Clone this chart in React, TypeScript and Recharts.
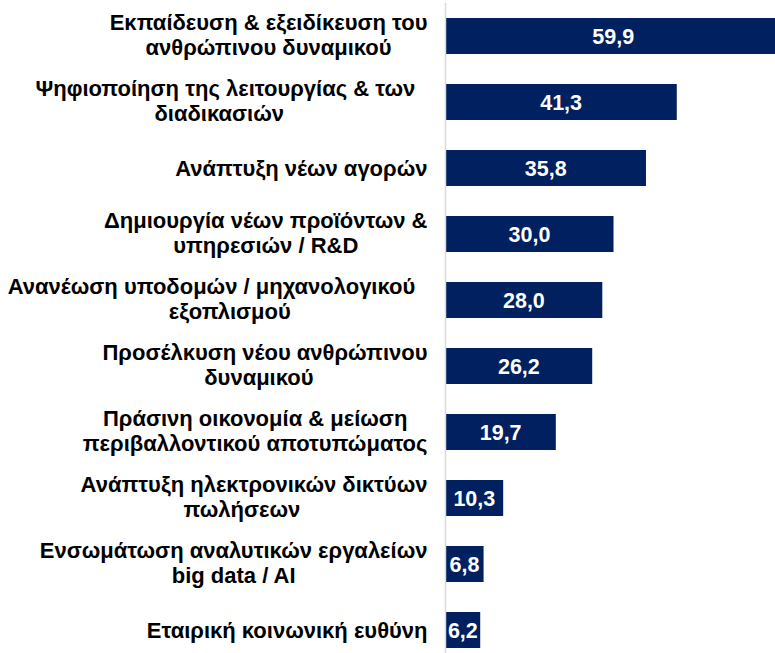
import React from 'react';
import { BarChart, Bar, XAxis, YAxis, LabelList } from 'recharts';

const categories = [
  'Εκπαίδευση & εξειδίκευση του\nανθρώπινου δυναμικού',
  'Ψηφιοποίηση της λειτουργίας & των  \nδιαδικασιών    ',
  'Ανάπτυξη νέων αγορών',
  'Δημιουργία νέων προϊόντων &\nυπηρεσιών / R&D',
  'Ανανέωση υποδομών / μηχανολογικού  \n    εξοπλισμού',
  'Προσέλκυση νέου ανθρώπινου\nδυναμικού  ',
  'Πράσινη οικονομία & μείωση\nπεριβαλλοντικού αποτυπώματος',
  'Ανάπτυξη ηλεκτρονικών δικτύων\nπωλήσεων    ',
  'Ενσωμάτωση αναλυτικών εργαλείων\nbig data / AI',
  'Εταιρική κοινωνική ευθύνη',
];
const values = [59.9, 41.3, 35.8, 30.0, 28.0, 26.2, 19.7, 10.3, 6.8, 6.2];

const data = categories.map((name, i) => ({ name, value: values[i] }));

const FONT_SIZE = 22;
const FONT = `bold ${FONT_SIZE}px "Liberation Sans", Arial, sans-serif`;
let ctx: CanvasRenderingContext2D | null = null;
function measure(t: string): number {
  if (!ctx && typeof document !== 'undefined') {
    ctx = document.createElement('canvas').getContext('2d');
  }
  if (!ctx) return t.length * FONT_SIZE * 0.55;
  ctx.font = FONT;
  return ctx.measureText(t).width;
}

const CategoryTick = (props: any) => {
  const { x, y, payload } = props;
  const lines: string[] = String(payload.value).split('\n');
  const maxW = Math.max(...lines.map(measure));
  const cx = x - maxW / 2;
  const lh = 25;
  const startY = y - ((lines.length - 1) * lh) / 2 - (lines.length > 1 ? 1.5 : 0);
  return (
    <g>
      {lines.map((l, i) => (
        <text
          key={i}
          x={cx}
          y={startY + i * lh}
          dy="0.35em"
          textAnchor="middle"
          fontFamily='"Liberation Sans", Arial, sans-serif'
          fontWeight="bold"
          fontSize={FONT_SIZE}
          fill="#000"
          style={{ whiteSpace: 'pre' }}
        >
          {l}
        </text>
      ))}
    </g>
  );
};

const fmt = (v: any) => Number(v).toFixed(1).replace('.', ',');

export default function App() {
  return (
    <div
      style={{
        position: 'fixed',
        left: 0,
        top: 0,
        width: 775,
        height: 653,
        overflow: 'hidden',
        background: '#fff',
      }}
    >
      <BarChart
        width={800}
        height={670}
        data={data}
        layout="vertical"
        margin={{ top: 3, right: 18.5, bottom: 7, left: 0 }}
      >
        <XAxis type="number" domain={[0, 60]} hide />
        <YAxis
          type="category"
          dataKey="name"
          width={445.5}
          tickSize={0}
          tickMargin={18}
          tickLine={false}
          axisLine={{ stroke: '#d9d9d9', strokeWidth: 1.5 }}
          tick={<CategoryTick />}
          interval={0}
        />
        <Bar dataKey="value" fill="#002060" barSize={36} isAnimationActive={false}>
          <LabelList
            dataKey="value"
            position="center"
            formatter={fmt}
            fill="#ffffff"
            fontFamily='"Liberation Sans", Arial, sans-serif'
            fontWeight="bold"
            fontSize={21.5}
          />
        </Bar>
      </BarChart>
    </div>
  );
}
